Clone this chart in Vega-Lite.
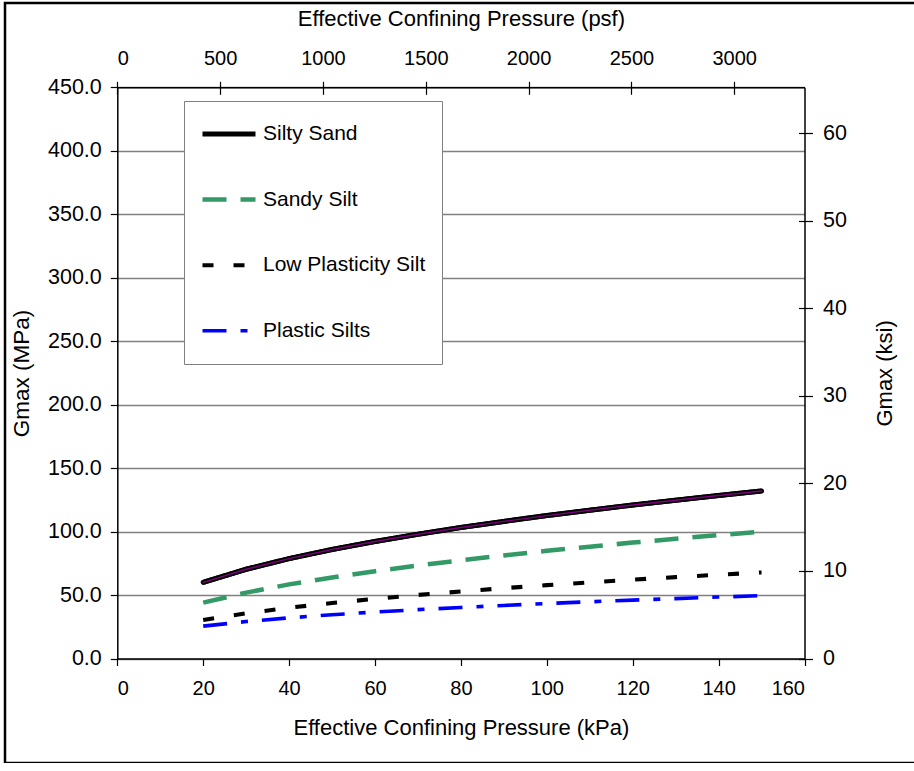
{
  "$schema": "https://vega.github.io/schema/vega-lite/v6.json",
  "width": 912,
  "height": 760,
  "autosize": {"type": "none"},
  "padding": {"left": 5, "top": 3, "right": 0, "bottom": 0},
  "background": "white",
  "config": {
    "view": {"stroke": "#000000", "strokeWidth": 2.5, "fill": "white"},
    "font": "Liberation Sans",
    "axis": {
      "labelFont": "Liberation Sans",
      "titleFont": "Liberation Sans",
      "labelFontSize": 20,
      "titleFontSize": 22,
      "titleFontWeight": "normal",
      "labelColor": "#000000",
      "titleColor": "#000000",
      "domainColor": "#000000",
      "domainWidth": 1.5,
      "tickColor": "#000000",
      "tickWidth": 1.2,
      "tickSize": 7,
      "gridColor": "#808080",
      "gridWidth": 1.3,
      "gridOpacity": 1
    }
  },
  "datasets": {
    "curves": [
      {"p": 20, "g": 60.0, "s": "Silty Sand"},
      {"p": 30, "g": 70.3, "s": "Silty Sand"},
      {"p": 40, "g": 78.7, "s": "Silty Sand"},
      {"p": 50, "g": 85.9, "s": "Silty Sand"},
      {"p": 60, "g": 92.2, "s": "Silty Sand"},
      {"p": 70, "g": 97.9, "s": "Silty Sand"},
      {"p": 80, "g": 103.2, "s": "Silty Sand"},
      {"p": 90, "g": 108.0, "s": "Silty Sand"},
      {"p": 100, "g": 112.6, "s": "Silty Sand"},
      {"p": 110, "g": 116.8, "s": "Silty Sand"},
      {"p": 120, "g": 120.9, "s": "Silty Sand"},
      {"p": 130, "g": 124.7, "s": "Silty Sand"},
      {"p": 140, "g": 128.4, "s": "Silty Sand"},
      {"p": 150, "g": 132.0, "s": "Silty Sand"},
      {"p": 20, "g": 44.0, "s": "Sandy Silt"},
      {"p": 30, "g": 51.9, "s": "Sandy Silt"},
      {"p": 40, "g": 58.4, "s": "Sandy Silt"},
      {"p": 50, "g": 63.9, "s": "Sandy Silt"},
      {"p": 60, "g": 68.8, "s": "Sandy Silt"},
      {"p": 70, "g": 73.3, "s": "Sandy Silt"},
      {"p": 80, "g": 77.4, "s": "Sandy Silt"},
      {"p": 90, "g": 81.2, "s": "Sandy Silt"},
      {"p": 100, "g": 84.8, "s": "Sandy Silt"},
      {"p": 110, "g": 88.1, "s": "Sandy Silt"},
      {"p": 120, "g": 91.3, "s": "Sandy Silt"},
      {"p": 130, "g": 94.3, "s": "Sandy Silt"},
      {"p": 140, "g": 97.2, "s": "Sandy Silt"},
      {"p": 150, "g": 100.0, "s": "Sandy Silt"},
      {"p": 20, "g": 30.3, "s": "Low Plasticity Silt"},
      {"p": 30, "g": 35.6, "s": "Low Plasticity Silt"},
      {"p": 40, "g": 40.0, "s": "Low Plasticity Silt"},
      {"p": 50, "g": 43.7, "s": "Low Plasticity Silt"},
      {"p": 60, "g": 47.0, "s": "Low Plasticity Silt"},
      {"p": 70, "g": 50.1, "s": "Low Plasticity Silt"},
      {"p": 80, "g": 52.8, "s": "Low Plasticity Silt"},
      {"p": 90, "g": 55.4, "s": "Low Plasticity Silt"},
      {"p": 100, "g": 57.8, "s": "Low Plasticity Silt"},
      {"p": 110, "g": 60.0, "s": "Low Plasticity Silt"},
      {"p": 120, "g": 62.1, "s": "Low Plasticity Silt"},
      {"p": 130, "g": 64.1, "s": "Low Plasticity Silt"},
      {"p": 140, "g": 66.0, "s": "Low Plasticity Silt"},
      {"p": 150, "g": 67.8, "s": "Low Plasticity Silt"},
      {"p": 20, "g": 25.5, "s": "Plastic Silts"},
      {"p": 30, "g": 29.1, "s": "Plastic Silts"},
      {"p": 40, "g": 32.0, "s": "Plastic Silts"},
      {"p": 50, "g": 34.5, "s": "Plastic Silts"},
      {"p": 60, "g": 36.6, "s": "Plastic Silts"},
      {"p": 70, "g": 38.5, "s": "Plastic Silts"},
      {"p": 80, "g": 40.2, "s": "Plastic Silts"},
      {"p": 90, "g": 41.8, "s": "Plastic Silts"},
      {"p": 100, "g": 43.3, "s": "Plastic Silts"},
      {"p": 110, "g": 44.7, "s": "Plastic Silts"},
      {"p": 120, "g": 46.0, "s": "Plastic Silts"},
      {"p": 130, "g": 47.2, "s": "Plastic Silts"},
      {"p": 140, "g": 48.4, "s": "Plastic Silts"},
      {"p": 150, "g": 49.5, "s": "Plastic Silts"}
    ],
    "units": [
      {"psf": 0, "ksi": 0},
      {"psf": 3341.6, "ksi": 65.27}
    ]
  },
  "layer": [
    {
      "data": {"name": "curves"},
      "encoding": {
        "x": {
          "field": "p",
          "type": "quantitative",
          "scale": {"domain": [0, 160], "range": [112.3, 799.5], "nice": false, "zero": false},
          "axis": {
            "orient": "bottom",
            "offset": -104.5,
            "values": [0, 20, 40, 60, 80, 100, 120, 140, 160],
            "grid": false,
            "title": "Effective Confining Pressure (kPa)",
            "labelPadding": 13,
            "titlePadding": 19
          }
        },
        "y": {
          "field": "g",
          "type": "quantitative",
          "scale": {"domain": [0, 450], "range": [655.5, 84.3], "nice": false, "zero": false},
          "axis": {
            "orient": "left",
            "offset": -112.3,
            "values": [0, 50, 100, 150, 200, 250, 300, 350, 400, 450],
            "format": ".1f",
            "grid": true,
            "title": "Gmax (MPa)",
            "labelFontSize": 21.5,
            "titleFontSize": 22.5,
            "labelPadding": 9,
            "titlePadding": 14
          }
        }
      },
      "layer": [
        {
          "mark": {"type": "line", "strokeCap": "butt", "strokeJoin": "round"},
          "encoding": {
            "color": {
              "field": "s",
              "type": "nominal",
              "scale": {
                "domain": ["Silty Sand", "Sandy Silt", "Low Plasticity Silt", "Plastic Silts"],
                "range": ["#000000", "#339966", "#000000", "#0000ff"]
              },
              "legend": {
                "title": null,
                "orient": "none",
                "legendX": 179,
                "legendY": 98,
                "symbolType": "stroke",
                "symbolSize": 2809,
                "clipHeight": 34,
                "labelFont": "Liberation Sans",
                "labelFontSize": 21,
                "labelColor": "#000000",
                "labelLimit": 400,
                "labelOffset": 5,
                "padding": 16,
                "rowPadding": 31.6,
                "strokeColor": "#808080",
                "fillColor": "white"
              }
            },
            "strokeDash": {
              "field": "s",
              "type": "nominal",
              "scale": {
                "domain": ["Silty Sand", "Sandy Silt", "Low Plasticity Silt", "Plastic Silts"],
                "range": [[1, 0], [24, 14], [11, 20], [24, 14, 7, 14]]
              }
            },
            "strokeWidth": {
              "field": "s",
              "type": "nominal",
              "scale": {
                "domain": ["Silty Sand", "Sandy Silt", "Low Plasticity Silt", "Plastic Silts"],
                "range": [5, 3.6, 5.6, 4]
              }
            }
          }
        },
        {
          "transform": [{"filter": "datum.s === 'Silty Sand'"}],
          "mark": {"type": "line", "color": "#000000", "strokeWidth": 5, "strokeCap": "round", "strokeJoin": "round"},
          "encoding": {}
        },
        {
          "transform": [{"filter": "datum.s === 'Silty Sand'"}],
          "mark": {"type": "line", "color": "#800080", "strokeWidth": 1.4, "strokeCap": "round", "strokeJoin": "round"},
          "encoding": {}
        }
      ]
    },
    {
      "data": {"name": "units"},
      "mark": {"type": "point", "opacity": 0},
      "encoding": {
        "x": {
          "field": "psf",
          "type": "quantitative",
          "scale": {"domain": [0, 3341.6], "range": [112.3, 799.5], "nice": false, "zero": false},
          "axis": {
            "orient": "top",
            "offset": -84.3,
            "values": [0, 500, 1000, 1500, 2000, 2500, 3000],
            "format": "d",
            "tickSize": 6,
            "grid": false,
            "title": "Effective Confining Pressure (psf)",
            "labelPadding": 13,
            "titlePadding": 18
          }
        },
        "y": {
          "field": "ksi",
          "type": "quantitative",
          "scale": {"domain": [0, 65.27], "range": [655.5, 84.3], "nice": false, "zero": false},
          "axis": {
            "orient": "right",
            "offset": -112.5,
            "values": [0, 10, 20, 30, 40, 50, 60],
            "format": "d",
            "tickSize": 8,
            "grid": false,
            "title": "Gmax (ksi)",
            "titleAngle": 270,
            "labelFontSize": 21.5,
            "labelPadding": 10,
            "titlePadding": 50
          }
        }
      }
    },
    {
      "data": {"name": "units"},
      "mark": {"type": "point", "opacity": 0},
      "encoding": {
        "x": {
          "field": "psf",
          "type": "quantitative",
          "scale": {"domain": [0, 3341.6], "range": [112.3, 799.5], "nice": false, "zero": false},
          "axis": {
            "orient": "top",
            "offset": -91.3,
            "values": [0, 500, 1000, 1500, 2000, 2500, 3000],
            "tickSize": 7,
            "domain": false,
            "labels": false,
            "grid": false,
            "title": null
          }
        },
        "y": {
          "field": "ksi",
          "type": "quantitative",
          "scale": {"domain": [0, 65.27], "range": [655.5, 84.3], "nice": false, "zero": false},
          "axis": {
            "orient": "right",
            "offset": -118.5,
            "values": [0, 10, 20, 30, 40, 50, 60],
            "tickSize": 6,
            "domain": false,
            "labels": false,
            "grid": false,
            "title": null
          }
        }
      }
    }
  ],
  "resolve": {
    "scale": {"x": "independent", "y": "independent"},
    "axis": {"x": "independent", "y": "independent"}
  }
}
